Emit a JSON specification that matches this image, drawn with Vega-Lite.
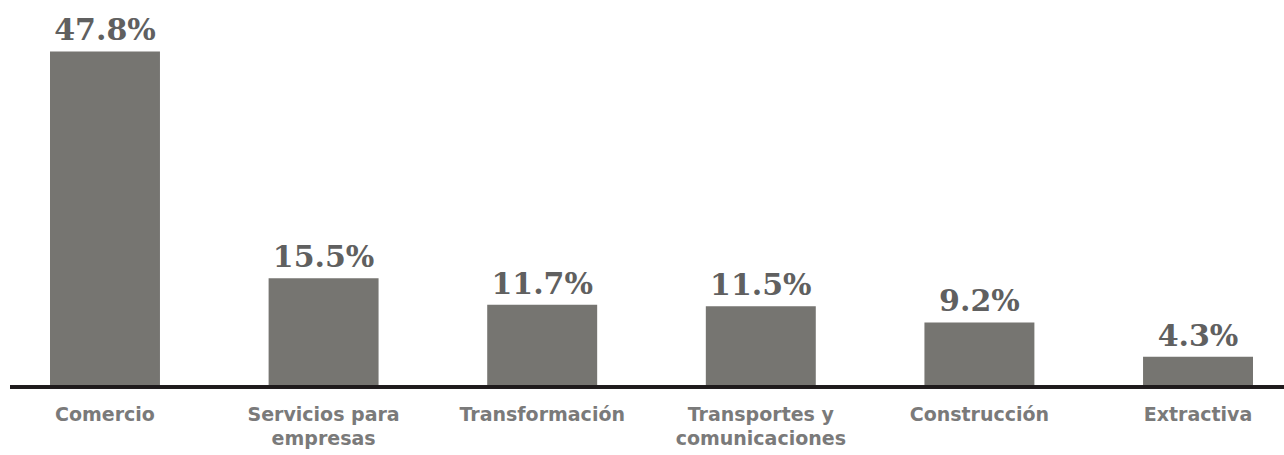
{
  "$schema": "https://vega.github.io/schema/vega-lite/v6.json",
  "autosize": {"type": "none"},
  "width": 1274,
  "height": 351,
  "padding": {"left": 10, "top": 36, "right": 0, "bottom": 68},
  "background": "white",
  "config": {"view": {"stroke": null}},
  "data": {
    "values": [
      {"sector": "Comercio", "value": 47.8},
      {"sector": "Servicios para empresas", "value": 15.5},
      {"sector": "Transformación", "value": 11.7},
      {"sector": "Transportes y comunicaciones", "value": 11.5},
      {"sector": "Construcción", "value": 9.2},
      {"sector": "Extractiva", "value": 4.3}
    ]
  },
  "transform": [{"calculate": "format(datum.value, '.1f') + '%'", "as": "label"}],
  "layer": [
    {
      "mark": {"type": "bar", "color": "#767571"},
      "encoding": {
        "x": {
          "field": "sector",
          "type": "nominal",
          "sort": null,
          "scale": {"paddingInner": 0.497, "paddingOuter": 0, "range": [40, 1243]},
          "axis": {
            "title": null,
            "labelAngle": 0,
            "ticks": false,
            "domain": false,
            "labelFont": "DejaVu Sans",
            "labelFontWeight": "bold",
            "labelFontSize": 19,
            "labelColor": "#7a7a7a",
            "labelPadding": 18,
            "labelBaseline": "top",
            "labelLineHeight": 24,
            "labelLimit": 300,
            "labelExpr": "datum.value == 'Servicios para empresas' ? ['Servicios para', 'empresas'] : datum.value == 'Transportes y comunicaciones' ? ['Transportes y', 'comunicaciones'] : datum.value"
          }
        },
        "y": {
          "field": "value",
          "type": "quantitative",
          "scale": {"domain": [0, 50]},
          "axis": null
        }
      }
    },
    {
      "mark": {
        "type": "text",
        "baseline": "alphabetic",
        "dy": -11,
        "font": "DejaVu Serif",
        "fontWeight": "bold",
        "fontSize": 30,
        "color": "#606060"
      },
      "encoding": {
        "x": {"field": "sector", "type": "nominal", "sort": null},
        "y": {"field": "value", "type": "quantitative"},
        "text": {"field": "label"}
      }
    },
    {
      "mark": {"type": "rule", "color": "#1f1b1c", "strokeWidth": 3},
      "encoding": {"y": {"datum": 0, "type": "quantitative"}}
    }
  ]
}
